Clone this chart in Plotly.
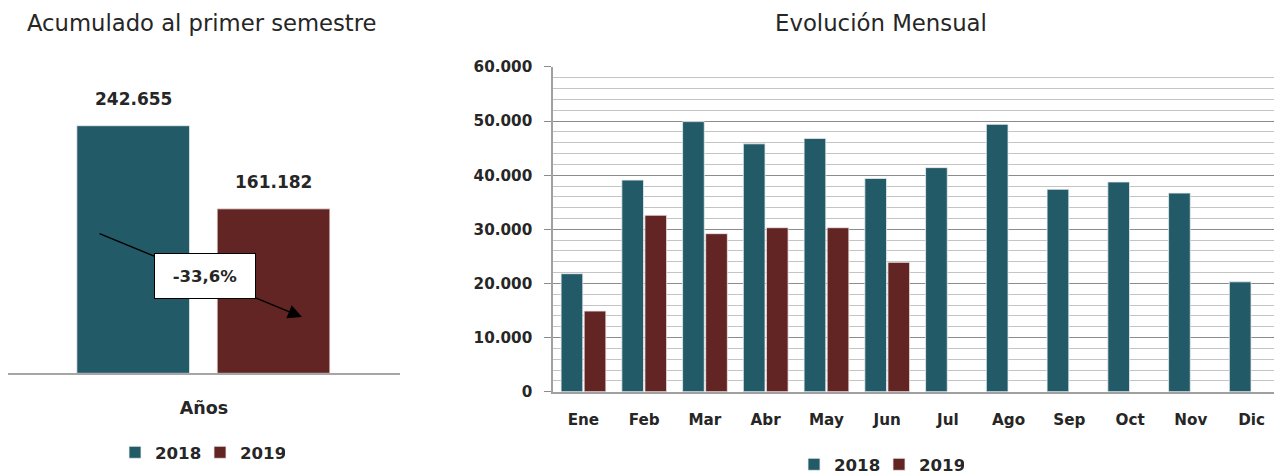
import plotly.graph_objects as go

# ---------------- data ----------------
meses = ["Ene", "Feb", "Mar", "Abr", "May", "Jun", "Jul", "Ago", "Sep", "Oct", "Nov", "Dic"]
mensual_2018 = [21800, 39100, 49900, 45800, 46800, 39400, 41400, 49400, 37400, 38750, 36700, 20300]
mensual_2019 = [14900, 32600, 29200, 30300, 30300, 23900]
acum_cat = ["Años"]
acum_2018 = [242655]
acum_2019 = [161182]
variacion_txt = "-33,6%"
titulo_izq = "Acumulado al primer semestre"
titulo_der = "Evolución Mensual"

# ---------------- style ----------------
# the page body has an 8px default margin: the figure is sized/offset so that
# it fills the 1282x475 window exactly as the reference does
OX, OY = 8, 8
W, H = 1282 - OX, 475 - OY
TEAL = "#235A68"
MAROON = "#632523"
TXT = "#262626"
FONT = "DejaVu Sans"

def px_x(p):
    return max(0.0, (p - OX) / W)

def px_y(p):
    return min(1.0, 1 - (p - OY) / H)

fig = go.Figure()

# left chart (accumulated)
L_W, L_OFF18, L_OFF19 = 0.2875, -0.3244, 0.0336
fig.add_trace(go.Bar(x=acum_cat, y=acum_2018, name="2018", marker=dict(color=TEAL, line=dict(color="#E8EEF0", width=0.8)),
                     width=L_W, offset=L_OFF18, xaxis="x", yaxis="y", legend="legend", hoverinfo="y"))
fig.add_trace(go.Bar(x=acum_cat, y=acum_2019, name="2019", marker=dict(color=MAROON, line=dict(color="#F0E8E8", width=0.8)),
                     width=L_W, offset=L_OFF19, xaxis="x", yaxis="y", legend="legend", hoverinfo="y"))

# right chart (monthly)
R_W, R_OFF18, R_OFF19 = 0.357, -0.367, 0.013
fig.add_trace(go.Bar(x=meses, y=mensual_2018, name="2018", marker=dict(color=TEAL, line=dict(color="#E8EEF0", width=0.8)),
                     width=R_W, offset=R_OFF18, xaxis="x2", yaxis="y2", legend="legend2"))
fig.add_trace(go.Bar(x=meses[:len(mensual_2019)], y=mensual_2019, name="2019", marker=dict(color=MAROON, line=dict(color="#F0E8E8", width=0.8)),
                     width=R_W, offset=R_OFF19, xaxis="x2", yaxis="y2", legend="legend2"))

annotations = [
    dict(text=titulo_izq, x=px_x(202), y=px_y(22.5), xref="paper", yref="paper", showarrow=False,
         xanchor="center", yanchor="middle", font=dict(size=22.7, color=TXT, family=FONT)),
    dict(text=titulo_der, x=px_x(881), y=px_y(22.5), xref="paper", yref="paper", showarrow=False,
         xanchor="center", yanchor="middle", font=dict(size=22.8, color=TXT, family=FONT)),
]
# data labels for left bars
for off, vals in ((L_OFF18, acum_2018), (L_OFF19, acum_2019)):
    annotations.append(dict(text=f"{vals[0]:,}".replace(",", "."), x=off + L_W / 2, y=vals[0], xref="x", yref="y",
                            showarrow=False, yshift=26.5, xanchor="center", yanchor="middle",
                            font=dict(size=17, color=TXT, family=FONT, weight="bold")))
# arrow
annotations.append(dict(text="", x=px_x(302), y=px_y(317), xref="paper", yref="paper", showarrow=True,
                        ax=98 - 302, ay=233 - 317, axref="pixel", ayref="pixel",
                        arrowhead=2, arrowsize=2.0, arrowwidth=1.4, arrowcolor="black", standoff=0))
# variation box
annotations.append(dict(text=f"<b>{variacion_txt}</b>", x=px_x(205), y=px_y(276), xref="paper", yref="paper",
                        showarrow=False, xanchor="center", yanchor="middle", width=100, height=44,
                        bgcolor="white", bordercolor="black", borderwidth=1, borderpad=0,
                        font=dict(size=16.5, color=TXT, family=FONT)))

tick_font = dict(size=15.2, color=TXT, family=FONT, weight="bold")
leg_font = dict(size=16.6, color=TXT, family=FONT, weight="bold")

fig.update_layout(
    width=W, height=H, margin=dict(l=0, r=0, t=0, b=0, pad=0, autoexpand=False),
    paper_bgcolor="white", plot_bgcolor="white",
    separators=",.",
    font=dict(family=FONT, color=TXT),
    showlegend=True,
    barmode="overlay",
    xaxis=dict(domain=[px_x(7), px_x(400)], range=[-0.5, 0.5], showline=True, linecolor="#A6A6A6", linewidth=1.5,
               showgrid=False, zeroline=False, ticks="", ticklabelstandoff=18, automargin=False,
               tickfont=dict(size=17.5, color=TXT, family=FONT, weight="bold"), fixedrange=True),
    yaxis=dict(domain=[px_y(373.3), px_y(67.2)], range=[0, 300000], visible=False, fixedrange=True, automargin=False),
    xaxis2=dict(domain=[px_x(553), 1.0], range=[-0.5, 11.5], showline=True, linecolor="#A0A0A0", linewidth=1.5,
                showgrid=False, zeroline=False, ticks="", ticklabelstandoff=13, anchor="y2", automargin=False,
                tickfont=tick_font, fixedrange=True),
    yaxis2=dict(domain=[px_y(391.7), px_y(66.7)], range=[0, 60050], anchor="x2", automargin=False,
                showline=True, linecolor="#A0A0A0", linewidth=1.5,
                tickmode="linear", tick0=0, dtick=10000, tickformat=",.0f",
                ticks="outside", ticklen=7, tickcolor="#8C8C8C", tickwidth=1.2,
                ticklabelstandoff=9,
                showgrid=True, gridcolor="#8C8C8C", gridwidth=1.2, zeroline=False,
                minor=dict(dtick=2000, showgrid=True, gridcolor="#C4C4C4", gridwidth=1, ticks=""),
                tickfont=tick_font, fixedrange=True),
    legend=dict(orientation="h", x=px_x(115), y=px_y(452.5), xanchor="left", yanchor="middle",
                font=leg_font, bgcolor="rgba(0,0,0,0)", entrywidth=40, entrywidthmode="pixels",
                itemclick=False, itemdoubleclick=False),
    legend2=dict(orientation="h", x=px_x(794), y=px_y(464.5), xanchor="left", yanchor="middle",
                 font=leg_font, bgcolor="rgba(0,0,0,0)", entrywidth=40, entrywidthmode="pixels",
                 itemclick=False, itemdoubleclick=False),
    annotations=annotations,
)

fig.write_html("out.html")
